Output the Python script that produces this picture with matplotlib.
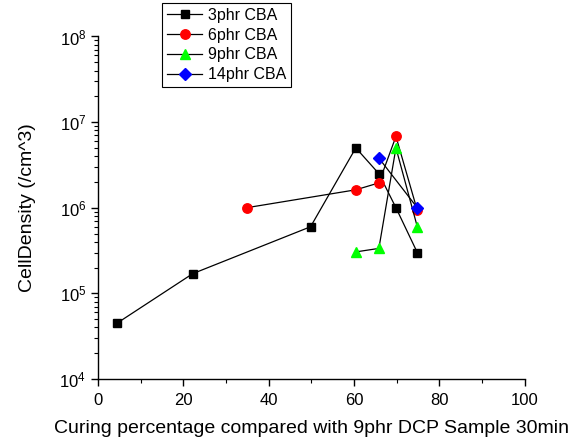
import matplotlib
matplotlib.use('Agg')
import matplotlib.pyplot as plt
from matplotlib.ticker import MultipleLocator, LogLocator, NullFormatter

plt.rcParams['font.family'] = ['Liberation Sans', 'DejaVu Sans']
plt.rcParams['mathtext.fontset'] = 'custom'
plt.rcParams['mathtext.rm'] = 'Liberation Sans'
plt.rcParams['mathtext.it'] = 'Liberation Sans:italic'

# curing percentage vs cell density
x_3phr = [4.5, 22.2, 49.8, 60.4, 65.8, 69.8, 74.8]
y_3phr = [4.5e4, 1.7e5, 6.0e5, 5.0e6, 2.5e6, 1.0e6, 3.0e5]

x_6phr = [34.8, 60.4, 65.8, 69.8, 74.8]
y_6phr = [1.0e6, 1.62e6, 1.95e6, 6.8e6, 9.3e5]

x_9phr = [60.4, 65.8, 69.8, 74.8]
y_9phr = [3.05e5, 3.35e5, 5.0e6, 6.0e5]

x_14phr = [65.8, 74.8]
y_14phr = [3.8e6, 1.0e6]

fig = plt.figure(figsize=(5.73, 4.42), dpi=100)
ax = fig.add_axes([0.171, 0.1425, 0.745, 0.775])

ax.plot(x_3phr, y_3phr, color='black', lw=0.9, marker='s', ms=6,
        mfc='black', mec='black', label='3phr CBA')
ax.plot(x_6phr, y_6phr, color='black', lw=0.9, marker='o', ms=6.8,
        mfc='#ff0000', mec='#ff0000', label='6phr CBA')
ax.plot(x_9phr, y_9phr, color='black', lw=0.9, marker='^', ms=7.5,
        mfc='#00ff00', mec='#00ff00', label='9phr CBA')
ax.plot(x_14phr, y_14phr, color='black', lw=0.9, marker='D', ms=6,
        mfc='#0000ff', mec='#0000ff', label='14phr CBA')

ax.set_yscale('log')
ax.set_xlim(0, 100)
ax.set_ylim(1e4, 1e8)
ax.xaxis.set_major_locator(MultipleLocator(20))
ax.xaxis.set_minor_locator(MultipleLocator(10))
ax.yaxis.set_major_locator(LogLocator(base=10, numticks=10))
ax.yaxis.set_minor_locator(LogLocator(base=10, subs=range(2, 10), numticks=10))
ax.yaxis.set_minor_formatter(NullFormatter())

for side in ['top', 'right']:
    ax.spines[side].set_visible(False)
for side in ['left', 'bottom']:
    ax.spines[side].set_linewidth(1.0)

ax.tick_params(which='major', direction='out', length=5, width=1.0, labelsize=12)
ax.tick_params(axis='x', which='major', pad=5)
ax.tick_params(which='minor', direction='out', length=3, width=0.8)

ax.set_xlabel('Curing percentage compared with 9phr DCP Sample 30min', fontsize=14, labelpad=9)
ax.set_ylabel('CellDensity (/cm^3)', fontsize=14, labelpad=17)

leg = fig.legend(loc='upper left', bbox_to_anchor=(0.283, 0.993), fontsize=11.5,
                 frameon=True, fancybox=False, edgecolor='black', framealpha=1,
                 handlelength=2.2, handletextpad=0.35, borderpad=0.3,
                 labelspacing=0.3, borderaxespad=0)
leg.get_frame().set_linewidth(0.8)

fig.savefig('out.png', dpi=100)
